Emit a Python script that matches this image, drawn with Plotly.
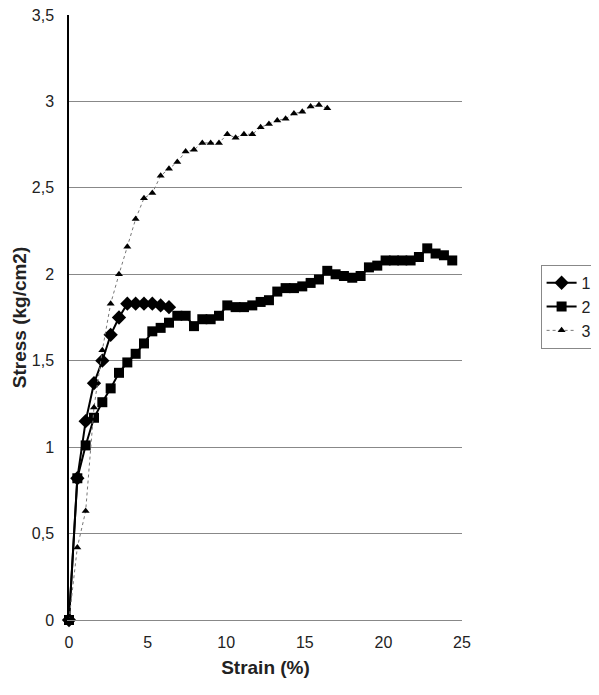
import plotly.graph_objects as go

strain = [0, 0.53, 1.06, 1.59, 2.12, 2.65, 3.18, 3.71, 4.24, 4.77, 5.30, 5.83, 6.36,
          6.89, 7.42, 7.95, 8.48, 9.01, 9.54, 10.07, 10.60, 11.13, 11.66, 12.19, 12.72,
          13.25, 13.78, 14.31, 14.84, 15.37, 15.90, 16.43, 16.96, 17.49, 18.02, 18.55,
          19.08, 19.61, 20.14, 20.67, 21.20, 21.73, 22.26, 22.79, 23.32, 23.85, 24.38]

stress_1 = [0, 0.82, 1.15, 1.37, 1.50, 1.65, 1.75, 1.83, 1.83, 1.83, 1.83, 1.82, 1.81]

stress_2 = [0, 0.82, 1.01, 1.17, 1.26, 1.34, 1.43, 1.49, 1.54, 1.60, 1.67, 1.69, 1.72,
            1.76, 1.76, 1.70, 1.74, 1.74, 1.76, 1.82, 1.81, 1.81, 1.82, 1.84, 1.85,
            1.90, 1.92, 1.92, 1.93, 1.95, 1.97, 2.02, 2.00, 1.99, 1.98, 1.99,
            2.04, 2.05, 2.08, 2.08, 2.08, 2.08, 2.10, 2.15, 2.12, 2.11, 2.08]

stress_3 = [0, 0.42, 0.63, 1.23, 1.56, 1.83, 2.00, 2.16, 2.32, 2.44, 2.47, 2.57, 2.61,
            2.65, 2.71, 2.72, 2.76, 2.76, 2.76, 2.81, 2.79, 2.81, 2.81, 2.85, 2.87,
            2.89, 2.90, 2.93, 2.94, 2.97, 2.98, 2.96]

names = ["1", "2", "3"]
y_ticks = [0, 0.5, 1, 1.5, 2, 2.5, 3, 3.5]
x_ticks = [0, 5, 10, 15, 20, 25]

fig = go.Figure()
fig.add_trace(go.Scatter(
    x=strain[:len(stress_1)], y=stress_1, name=names[0], mode="lines+markers",
    line=dict(color="black", width=2),
    marker=dict(symbol="diamond", size=11, color="black"), cliponaxis=False))
fig.add_trace(go.Scatter(
    x=strain[:len(stress_2)], y=stress_2, name=names[1], mode="lines+markers",
    line=dict(color="black", width=2),
    marker=dict(symbol="square", size=10, color="black"), cliponaxis=False))
fig.add_trace(go.Scatter(
    x=strain[:len(stress_3)], y=stress_3, name=names[2], mode="lines+markers",
    line=dict(color="#777777", width=1, dash="dot"),
    marker=dict(symbol="triangle-up", size=7, color="black"), cliponaxis=False))

font = "Liberation Sans, Arial, sans-serif"
fig.update_layout(
    width=591, height=687,
    margin=dict(l=61, r=137, t=7, b=75, autoexpand=False),
    paper_bgcolor="white", plot_bgcolor="white",
    separators=", ",
    font=dict(family=font, size=16, color="#222222"),
    showlegend=True,
    legend=dict(x=1.2, y=0.587, xanchor="left", yanchor="top",
                bordercolor="#888888", borderwidth=1, bgcolor="white",
                font=dict(size=16, color="#222222"), tracegroupgap=0,
                itemwidth=30),
    xaxis=dict(range=[0, 25], tickvals=x_ticks, showgrid=False, zeroline=False,
               showline=True, linecolor="#888888", linewidth=1, automargin=False,
               ticks="", ticklabelstandoff=8, tickfont=dict(size=16),
               ticklabeloverflow="allow",
               title=dict(text="<b>Strain (%)</b>", font=dict(size=19, color="#222222"),
                          standoff=10)),
    yaxis=dict(range=[0, 3.5], tickvals=y_ticks, showgrid=True, gridcolor="#888888",
               gridwidth=1, zeroline=False, showline=True, linecolor="black",
               linewidth=1.5, ticks="", ticklabelstandoff=10, automargin=False,
               tickfont=dict(size=16), ticklabeloverflow="allow",
               title=dict(text="<b>Stress (kg/cm2)</b>", font=dict(size=19, color="#222222"),
                          standoff=0)),
)

fig.write_html("out.html")
